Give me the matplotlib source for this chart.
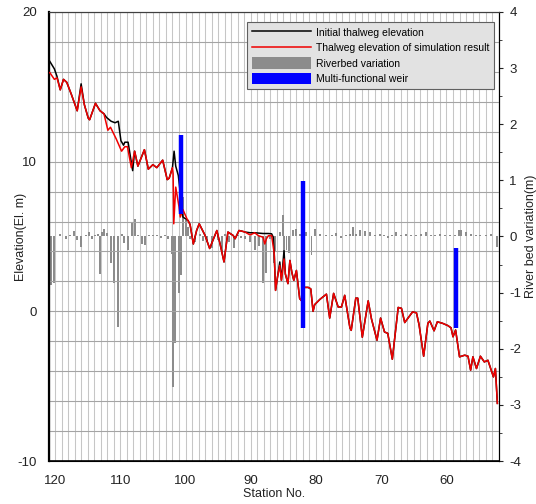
import matplotlib
matplotlib.use("Agg")
import matplotlib.pyplot as plt
from matplotlib.lines import Line2D
from matplotlib.patches import Patch
import numpy as np

plt.rcParams['font.family'] = ['Liberation Sans', 'DejaVu Sans']
plt.rcParams['axes.unicode_minus'] = False

# ---- data ----
sim_station = [120.8, 120.1, 119.7, 119.2, 118.7, 118.2, 117.5, 116.6, 116.0, 115.5,
               114.9, 114.7, 113.8, 113.1, 112.5, 111.9, 111.5, 110.6, 109.8, 109.3,
               108.9, 108.3, 107.8, 107.3, 106.3, 105.7, 105.0, 104.4, 103.5, 102.8,
               102.5, 102.0, 101.9, 101.8, 101.5, 101.0, 100.8, 100.4, 99.8, 99.3,
               98.8, 98.3, 97.9, 97.0, 96.3, 95.8, 95.2, 94.7, 94.1, 93.5,
               92.7, 92.4, 91.8, 91.3, 90.9, 90.1, 89.4, 88.8, 88.1, 87.85,
               87.6, 87.3, 86.8, 86.4, 86.2, 85.9, 85.55, 85.3, 84.9, 84.7,
               84.3, 84.0, 83.7, 83.4, 83.0, 82.5, 82.2, 82.0, 81.2, 80.8,
               80.45, 80.2, 79.4, 78.4, 77.9, 77.3, 76.6, 76.1, 75.6, 74.8,
               74.6, 73.9, 73.6, 72.9, 72.0, 71.5, 70.65, 70.1, 69.5, 69.0,
               68.3, 67.4, 66.9, 66.4, 65.2, 64.6, 64.2, 63.5, 62.85, 62.55,
               61.9, 61.4, 60.6, 59.8, 59.3, 59.0, 58.6, 58.0, 57.2, 56.7,
               56.3, 55.95, 55.4, 54.8, 54.2, 53.65, 52.8, 52.5, 52.2]
sim_elev = [15.95, 15.5, 15.6, 14.8, 15.5, 15.3, 14.5, 13.4, 15.0, 13.8,
            12.9, 12.8, 13.9, 13.4, 13.2, 12.1, 12.3, 11.5, 10.7, 11.0,
            11.0, 9.6, 10.7, 9.7, 10.8, 9.5, 9.8, 9.6, 10.1, 8.8,
            8.9, 9.6, 9.2, 5.85, 8.3, 7.0, 6.3, 6.8, 6.2, 5.8,
            4.5, 5.4, 5.85, 5.07, 4.2, 4.75, 5.4, 4.5, 3.3, 5.3,
            5.07, 4.85, 5.4, 5.35, 5.3, 5.1, 5.25, 5.05, 4.95, 4.5,
            4.85, 5.05, 5.07, 3.85, 1.4, 2.3, 3.07, 2.07, 3.5, 2.5,
            1.85, 3.4, 2.6, 2.07, 2.73, 0.85, 0.7, 1.6, 1.6, 1.5,
            0.0, 0.45, 0.8, 1.15, -0.45, 1.2, 0.29, 0.29, 1.07, -1.1,
            -1.27, 0.88, 0.88, -1.73, 0.7, -0.5, -1.93, -0.45, -1.38, -1.47,
            -3.2, 0.26, 0.2, -0.75, -0.04, -0.1, -0.9, -3.0, -0.8, -0.65,
            -1.3, -0.7, -0.8, -0.95, -1.1, -1.7, -1.25, -3.04, -2.93, -3.0,
            -3.93, -3.04, -3.82, -3.0, -3.38, -3.27, -4.38, -3.82, -6.15]

init_station = [120.8, 120.1, 119.7, 119.2, 118.7, 118.2, 117.5, 116.6, 116.0, 115.5,
                114.9, 114.7, 113.8, 113.1, 112.5, 112.1, 111.4, 110.8, 110.3, 109.9,
                109.5, 109.3, 108.8, 108.1, 107.8, 107.3, 106.3, 105.7, 105.0, 104.4,
                103.5, 102.8, 102.5, 102.0, 101.75, 101.5, 101.1, 100.7, 100.4, 99.6,
                99.3, 98.8, 98.3, 97.9, 97.0, 96.3, 95.8, 95.2, 94.7, 94.1,
                93.5, 92.7, 92.4, 91.8, 91.3, 90.9, 90.1, 89.4, 88.1, 87.3,
                86.8, 86.55, 86.4, 86.2, 85.9, 85.55, 85.3, 84.9, 84.7, 84.3,
                84.0, 83.7, 83.4, 83.0, 82.5, 82.2, 82.0, 81.2, 80.8, 80.45,
                80.2, 79.4, 78.4, 77.9, 77.3, 76.6, 76.1, 75.6, 74.8, 74.6,
                73.9, 73.6, 72.9, 72.0, 71.5, 70.65, 70.1, 69.5, 69.0, 68.3,
                67.4, 66.9, 66.4, 65.2, 64.6, 64.2, 63.5, 62.85, 62.55, 61.9,
                61.4, 60.6, 59.8, 59.3, 59.0, 58.6, 58.0, 57.2, 56.7, 56.3,
                55.95, 55.4, 54.8, 54.2, 53.65, 52.8, 52.5, 52.2]
init_elev = [16.7, 16.2, 15.7, 14.8, 15.5, 15.3, 14.5, 13.4, 15.2, 13.8,
             12.9, 12.8, 13.9, 13.4, 13.2, 12.95, 12.7, 12.6, 12.7, 11.4,
             11.1, 11.3, 11.3, 9.4, 10.7, 9.7, 10.8, 9.5, 9.8, 9.6,
             10.1, 8.8, 8.9, 9.6, 10.7, 9.7, 9.07, 7.5, 6.3, 6.07,
             5.8, 4.5, 5.4, 5.85, 5.07, 4.2, 4.75, 5.4, 4.5, 3.3,
             5.3, 5.07, 4.85, 5.4, 5.35, 5.3, 5.25, 5.25, 5.2, 5.2,
             5.18, 4.95, 3.85, 1.4, 2.3, 3.3, 2.07, 4.05, 2.5, 1.85,
             3.4, 2.6, 2.07, 2.73, 0.85, 0.7, 1.6, 1.6, 1.5, 0.0,
             0.45, 0.8, 1.15, -0.45, 1.2, 0.29, 0.29, 1.07, -1.1, -1.27,
             0.88, 0.88, -1.73, 0.7, -0.5, -1.93, -0.45, -1.38, -1.47, -3.2,
             0.26, 0.2, -0.75, -0.04, -0.1, -0.9, -3.0, -0.8, -0.65, -1.3,
             -0.7, -0.8, -0.95, -1.1, -1.7, -1.25, -3.04, -2.93, -3.0, -3.93,
             -3.04, -3.82, -3.0, -3.38, -3.27, -4.38, -3.82, -6.15]

bar_station = [120.66, 120.16, 119.24, 118.37, 117.7, 117.05, 116.59, 116.02, 115.3, 114.75,
               114.38, 113.9, 113.37, 113.11, 112.85, 112.45, 112.09, 111.43, 110.92, 110.31,
               109.79, 109.39, 108.87, 108.17, 107.75, 107.25, 106.64, 106.22, 105.6, 104.95,
               104.4, 103.8, 103.2, 102.7, 102.13, 101.88, 101.63, 101.01, 100.71, 100.45,
               99.94, 99.59, 99.33, 98.57, 97.8, 97.3, 96.77, 96.0, 95.5, 95.0,
               94.48, 93.97, 93.36, 92.59, 91.93, 91.52, 90.91, 90.14, 89.38, 88.77,
               88.11, 87.59, 87.08, 86.42, 86.21, 85.55, 85.04, 84.89, 84.52, 84.17,
               83.51, 83.0, 82.49, 81.46, 80.69, 80.08, 79.42, 78.4, 77.6, 76.87,
               76.2, 75.4, 74.8, 74.32, 73.9, 73.26, 72.5, 71.77, 71.0, 70.23,
               69.6, 69.0, 68.4, 67.68, 67.0, 66.15, 65.5, 64.7, 63.9, 63.09,
               62.4, 61.7, 61.05, 60.3, 59.5, 58.7, 58.09, 57.72, 56.96, 56.3,
               55.5, 54.8, 54.0, 53.2, 52.21]
bar_value = [-0.86, -0.83, 0.04, -0.04, 0.03, 0.09, -0.06, -0.18, 0.03, 0.08,
             -0.05, 0.03, 0.04, -0.66, 0.08, 0.13, 0.06, -0.48, -0.83, -1.61,
             0.04, -0.12, -0.24, 0.25, 0.31, 0.03, -0.13, -0.15, 0.02, 0.03,
             0.02, -0.03, 0.02, -0.05, -0.31, -2.68, -1.9, -1.01, -0.69, 0.7,
             0.3, 0.17, -0.04, -0.1, 0.05, -0.08, -0.09, -0.21, 0.03, -0.06,
             -0.28, 0.04, -0.1, -0.2, 0.03, -0.03, -0.05, -0.1, -0.24, -0.17,
             -0.83, -0.65, -0.05, -0.47, -0.25, 0.08, 0.39, -0.45, -0.24, -0.3,
             0.12, 0.14, 0.04, 0.08, -0.33, 0.14, 0.05, 0.03, 0.02, 0.06,
             -0.03, 0.03, 0.05, 0.17, 0.05, 0.12, 0.1, 0.08, 0.03, 0.05,
             0.02, -0.03, 0.02, 0.08, 0.03, 0.05, 0.02, 0.03, 0.04, 0.08,
             0.03, 0.02, 0.05, 0.02, 0.03, 0.02, 0.12, 0.12, 0.08, 0.04,
             0.03, 0.03, 0.03, 0.04, -0.18]

weir_station = [100.7, 81.95, 58.55]
weir_bottom = [6.5, -1.1, -1.1]
weir_top = [11.8, 8.7, 4.2]

legend_labels = ['Initial thalweg elevation', 'Thalweg elevation of simulation result',
                 'Riverbed variation', 'Multi-functional weir']

# ---- figure ----
fig = plt.figure(figsize=(5.36, 5.04), dpi=100)
ax = fig.add_axes([48.5/536, 1-461/504, 450.5/536, 449/504])
ax2 = ax.twinx()

# line axis drawn above the bar axis
ax.set_zorder(ax2.get_zorder() + 1)
ax.patch.set_visible(False)
ax2.set_facecolor('white')

ax.set_xlim(121, 51.95)
ax.set_ylim(-10, 20)
ax2.set_ylim(-4, 4)

# grids (vertical grid on the bar axis so bars sit above them)
ax2.xaxis.set_visible(True)
ax2.set_xticks([120, 110, 100, 90, 80, 70, 60])
ax2.set_xticks(np.arange(52, 122, 1), minor=True)
ax2.tick_params(axis='x', which='both', length=0, labelbottom=False, labeltop=False)
ax2.grid(axis='x', which='both', color='#c6c6c6', lw=0.75)
ax2.set_axisbelow(True)

ax.set_xticks([120, 110, 100, 90, 80, 70, 60])
ax.set_yticks([20, 10, 0, -10])
ax.set_yticks(np.arange(-10, 21, 2), minor=True)
ax.grid(axis='y', which='both', color='#a4a4a4', lw=0.8)
ax.set_axisbelow(True)

# bars
ax2.bar(bar_station, bar_value, width=0.3, color='#8c8c8c', zorder=2)

# lines
ax.plot(init_station, init_elev, color='black', lw=1.1, zorder=3)
ax.plot(sim_station, sim_elev, color='#f00000', lw=1.1, zorder=4)
ax.vlines(weir_station, weir_bottom, weir_top, colors='#0000ff', lw=3.2, zorder=5)

# ticks
ax.tick_params(axis='x', length=0, pad=10, labelsize=9.5, colors='#222222')
ax.tick_params(axis='x', which='minor', length=0)
ax.tick_params(axis='y', which='both', length=0, pad=8.5, labelsize=9.5, colors='#222222')
ax2.set_yticks(np.arange(-4, 5, 1))
ax2.set_yticks(np.arange(-3.5, 4, 1), minor=True)
ax2.tick_params(axis='y', which='major', length=3, pad=4.5, labelsize=9.5, colors='#222222')
ax2.tick_params(axis='y', which='minor', length=2.5, color='#222222')

for s in ['left', 'bottom', 'right']:
    ax.spines[s].set_color('black')
    ax2.spines[s].set_color('black')
ax.spines['left'].set_linewidth(1.6)
ax.spines['bottom'].set_linewidth(1.2)
ax.spines['top'].set_color('#404040')
ax2.spines['top'].set_color('#404040')

ax.set_ylabel('Elevation(El. m)', fontsize=9, color='#222222')
ax.yaxis.set_label_coords(-0.047, 0.5)
ax.set_xlabel('Station No.', fontsize=9, color='#222222')
ax.xaxis.set_label_coords(0.5, -0.06)
ax2.set_ylabel('River bed variation(m)', fontsize=9, color='#222222')
ax2.yaxis.set_label_coords(1.058, 0.5)

handles = [Line2D([], [], color='black', lw=1.1),
           Line2D([], [], color='#f00000', lw=1.1),
           Patch(facecolor='#8c8c8c', edgecolor='none'),
           Patch(facecolor='#0000ff', edgecolor='none')]
leg = ax.legend(handles, legend_labels, loc='upper left',
                bbox_to_anchor=(247/536, 1-22/504), bbox_transform=fig.transFigure,
                prop={'family': ['Liberation Sans Narrow', 'Liberation Sans'], 'size': 7.5},
                handlelength=5.7, handleheight=1.35, labelspacing=0.35,
                handletextpad=0.5, borderpad=0.45, borderaxespad=0,
                fancybox=False, framealpha=1, facecolor='#e2e2e2', edgecolor='#606060')
leg.set_zorder(10)
leg.get_frame().set_linewidth(0.8)

fig.savefig('out.png', dpi=100)
